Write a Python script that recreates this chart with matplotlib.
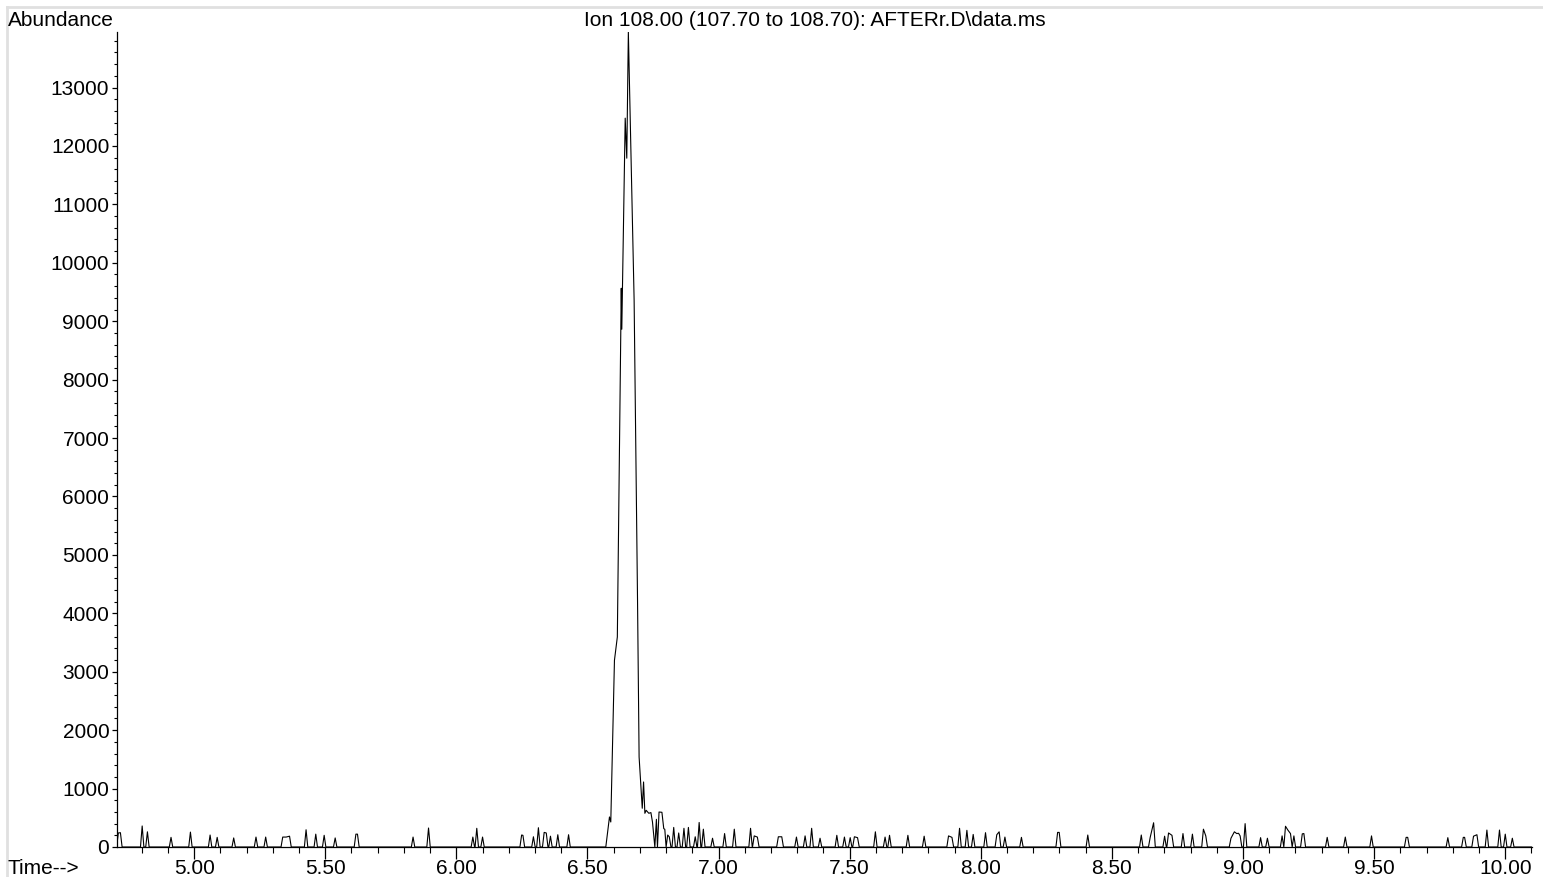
import matplotlib
matplotlib.use("Agg")
import matplotlib.pyplot as plt
from matplotlib.lines import Line2D
from matplotlib.ticker import MultipleLocator, FormatStrFormatter

plt.rcParams["font.family"] = ["Liberation Sans", "DejaVu Sans"]

# Main peak (retention time in min, abundance)
peak_times = [6.570, 6.584, 6.589, 6.603, 6.614, 6.629, 6.631, 6.644, 6.650,
              6.656, 6.678, 6.691, 6.697, 6.709, 6.714, 6.719, 6.724, 6.734,
              6.742, 6.748, 6.757, 6.763, 6.767, 6.773, 6.784, 6.791, 6.795,
              6.800]
peak_values = [0, 514, 428, 3196, 3595, 9564, 8863, 12475, 11790,
               13950, 9360, 4224, 1541, 663, 1113, 577, 628, 577,
               589, 428, 0, 474, 0, 599, 594, 315, 303,
               0]

# Baseline noise spikes
noise_times = [4.711, 4.719, 4.802, 4.822, 4.912, 4.986, 5.061, 5.088, 5.151,
               5.236, 5.273, 5.338, 5.351, 5.364, 5.427, 5.464, 5.496, 5.538,
               5.617, 5.623, 5.835, 5.894, 6.063, 6.078, 6.100, 6.249, 6.254,
               6.294, 6.313, 6.335, 6.343, 6.359, 6.387, 6.428,
               6.806, 6.812, 6.829, 6.848, 6.868, 6.885, 6.911, 6.926, 6.942,
               6.977, 7.023, 7.060, 7.122, 7.136, 7.148, 7.228, 7.241, 7.297,
               7.330, 7.355, 7.387, 7.451, 7.480, 7.502, 7.518, 7.530, 7.598,
               7.635, 7.652, 7.722, 7.784, 7.877, 7.890, 7.919, 7.947, 7.971,
               8.018, 8.061, 8.070, 8.092, 8.155, 8.293, 8.299, 8.408, 8.612,
               8.646, 8.659, 8.701, 8.716, 8.729, 8.771, 8.807, 8.849, 8.858,
               8.954, 8.967, 8.976, 8.983, 8.989, 9.008, 9.067, 9.093, 9.149,
               9.162, 9.171, 9.181, 9.194, 9.226, 9.232, 9.321, 9.390, 9.490,
               9.622, 9.628, 9.781, 9.840, 9.845, 9.879, 9.892, 9.930, 9.978,
               10.000, 10.027]
noise_values = [240, 245, 360, 260, 165, 255, 205, 165, 155,
                170, 170, 170, 170, 185, 295, 220, 200, 155,
                220, 220, 170, 325, 170, 320, 170, 205, 200,
                175, 330, 250, 240, 185, 210, 210,
                205, 175, 335, 240, 320, 335, 175, 420, 305,
                150, 230, 305, 320, 190, 170, 175, 175, 170,
                190, 320, 150, 200, 170, 160, 175, 160, 260,
                170, 200, 200, 185, 190, 165, 320, 285, 215,
                245, 210, 260, 170, 165, 250, 250, 205, 205,
                165, 415, 185, 240, 200, 230, 220, 305, 190,
                150, 260, 230, 235, 190, 400, 160, 150, 190,
                355, 290, 230, 190, 225, 230, 165, 170, 190,
                165, 165, 160, 165, 165, 185, 210, 290, 290,
                220, 150]

x_start, x_end = 4.700, 10.110
half_width = 0.0065

# assemble the trace: noise spikes drop back to the zero baseline between hits
points = [(t, v, False) for t, v in zip(noise_times, noise_values)]
points += [(t, v, True) for t, v in zip(peak_times, peak_values)]
points.sort(key=lambda p: p[0])

trace_t = [x_start]
trace_v = [0]
prev = None
for t, v, in_peak in points:
    if prev is not None:
        pt, pv, p_peak = prev
        if not (p_peak and in_peak) and t - pt > 2 * half_width:
            if pv > 0 and not p_peak:
                trace_t.append(pt + half_width)
                trace_v.append(0)
            if v > 0 and not in_peak:
                trace_t.append(t - half_width)
                trace_v.append(0)
    elif v > 0:
        trace_t.append(t - half_width)
        trace_v.append(0)
    trace_t.append(t)
    trace_v.append(v)
    prev = (t, v, in_peak)
trace_t.append(prev[0] + half_width)
trace_v.append(0)
trace_t.append(x_end)
trace_v.append(0)

fig = plt.figure(figsize=(15.43, 8.77), dpi=100)
ax = fig.add_axes([117 / 1543, 1 - 847 / 877, (1532 - 117) / 1543, (847 - 32) / 877])

ax.plot(trace_t, trace_v, color="black", linewidth=0.8)

ax.set_xlim(4.706, 10.102)
ax.set_ylim(0, 13950)

ax.spines["top"].set_visible(False)
ax.spines["right"].set_visible(False)
ax.spines["left"].set_linewidth(0.9)
ax.spines["bottom"].set_linewidth(0.9)

ax.xaxis.set_major_locator(MultipleLocator(0.5))
ax.xaxis.set_minor_locator(MultipleLocator(0.1))
ax.xaxis.set_major_formatter(FormatStrFormatter("%.2f"))
ax.yaxis.set_major_locator(MultipleLocator(1000))
ax.yaxis.set_minor_locator(MultipleLocator(200))

ax.tick_params(axis="x", which="major", direction="out", length=8.5, width=0.9,
               pad=0.5, labelsize=15)
ax.tick_params(axis="x", which="minor", direction="out", length=4.5, width=0.8)
ax.tick_params(axis="y", which="major", direction="out", length=3.5, width=0.9,
               pad=2, labelsize=15)
ax.tick_params(axis="y", which="minor", direction="out", length=2.5, width=0.8)

fig.text(8 / 1543, 1 - 20 / 877, "Abundance", fontsize=15, ha="left", va="center")
fig.text(815 / 1543, 1 - 20 / 877, "Ion 108.00 (107.70 to 108.70): AFTERr.D\\data.ms",
         fontsize=15, ha="center", va="center")
fig.text(8 / 1543, 1 - 869 / 877, "Time-->", fontsize=15, ha="left", va="center")

# light grey frame along the left and top edges
fig.add_artist(Line2D([7 / 1543, 7 / 1543], [0, 1 - 7 / 877], color="#e0e0e0",
                      linewidth=2, transform=fig.transFigure))
fig.add_artist(Line2D([7 / 1543, 1], [1 - 7 / 877, 1 - 7 / 877], color="#e0e0e0",
                      linewidth=2, transform=fig.transFigure))

fig.savefig("out.png", dpi=100)
